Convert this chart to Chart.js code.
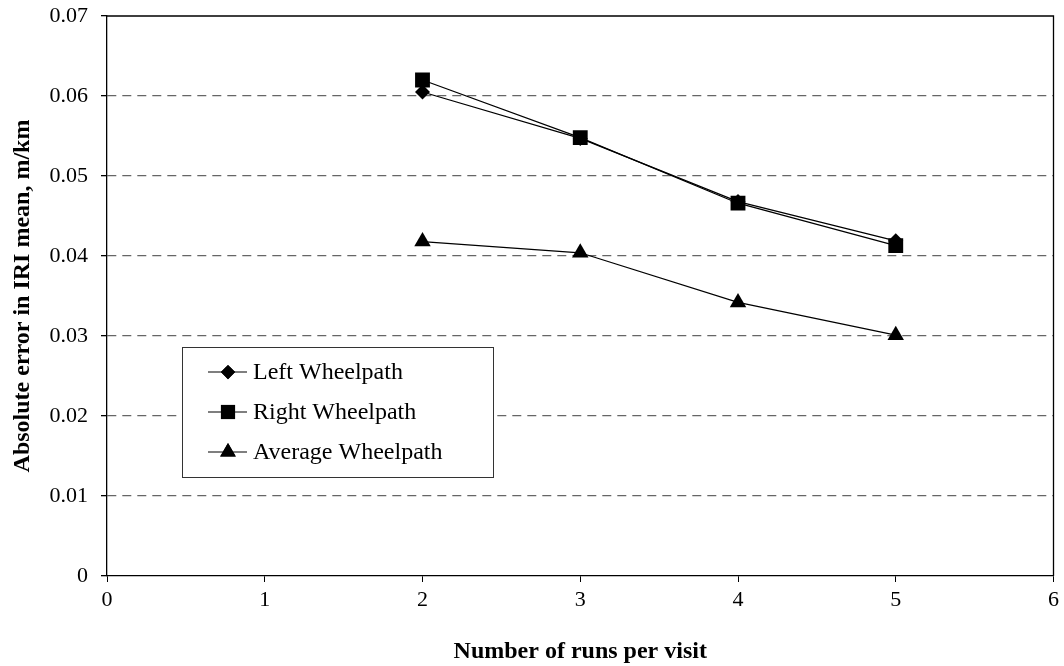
<!DOCTYPE html>
<html>
<head>
<meta charset="utf-8">
<script src="https://cdn.jsdelivr.net/npm/chart.js@4/dist/chart.umd.min.js"></script>
<style>
  html, body { margin: 0; padding: 0; background: #fff; }
  #wrap { width: 1064px; height: 666px; }
</style>
</head>
<body>
<div id="wrap"><canvas id="c" width="1064" height="666"></canvas></div>
<script>
// runs per visit
const runs = [2, 3, 4, 5];
// absolute error in IRI mean, m/km
const leftWheelpath = [0.0605, 0.0547, 0.0468, 0.0419];
const rightWheelpath = [0.0620, 0.0548, 0.0466, 0.0413];
const averageWheelpath = [0.0418, 0.0404, 0.0342, 0.0301];

const seriesNames = ["Left Wheelpath", "Right Wheelpath", "Average Wheelpath"];
const seriesValues = [leftWheelpath, rightWheelpath, averageWheelpath];
const markerStyles = ["rectRot", "rect", "triangle"];
const markerSizes = [7.5, 10.5, 9.5];

const FONT = "'Liberation Serif', 'Times New Roman', serif";

const datasets = seriesNames.map((name, i) => ({
  label: name,
  data: runs.map((r, j) => ({ x: r, y: seriesValues[i][j] })),
  showLine: true,
  borderColor: "#000",
  backgroundColor: "#000",
  borderWidth: 1.2,
  pointStyle: markerStyles[i],
  pointRadius: markerSizes[i],
  pointBackgroundColor: "#000",
  pointBorderColor: "#000",
  pointBorderWidth: 0,
  tension: 0
}));

// frame around plot area + legend box inside it
const framePlugin = {
  id: "frame",
  afterDatasetsDraw(chart) {
    const { ctx, chartArea: a } = chart;
    ctx.save();
    ctx.strokeStyle = "#000";
    ctx.lineWidth = 1.3;
    ctx.beginPath();
    ctx.moveTo(a.left, a.top);
    ctx.lineTo(a.right, a.top);
    ctx.lineTo(a.right, a.bottom);
    ctx.stroke();
    ctx.restore();
  },
  afterDraw(chart) {
    const { ctx } = chart;
    const bx = 182, by = 347, bw = 311, bh = 130;
    ctx.save();
    ctx.fillStyle = "#fff";
    ctx.fillRect(bx, by, bw, bh);
    ctx.strokeStyle = "#333";
    ctx.lineWidth = 1;
    ctx.strokeRect(bx + 0.5, by + 0.5, bw, bh);
    ctx.font = "24px " + FONT;
    ctx.textBaseline = "middle";
    ctx.fillStyle = "#000";
    chart.data.datasets.forEach((ds, i) => {
      const y = by + 25 + i * 40;
      ctx.strokeStyle = "#000";
      ctx.lineWidth = 1.2;
      ctx.beginPath();
      ctx.moveTo(bx + 26, y);
      ctx.lineTo(bx + 65, y);
      ctx.stroke();
      Chart.helpers.drawPoint(ctx, {
        pointStyle: ds.pointStyle,
        radius: ds.pointRadius * 0.95,
        borderWidth: 0
      }, bx + 46, y);
      ctx.fill();
      ctx.fillText(ds.label, bx + 71, y + 1);
    });
    ctx.restore();
  }
};

new Chart(document.getElementById("c"), {
  type: "scatter",
  data: { datasets },
  plugins: [framePlugin],
  options: {
    responsive: false,
    animation: false,
    layout: { padding: { left: 0, top: 16, right: 8, bottom: 0 } },
    plugins: {
      legend: { display: false },
      tooltip: { enabled: false }
    },
    scales: {
      x: {
        type: "linear",
        min: 0,
        max: 6,
        ticks: {
          stepSize: 1,
          color: "#000",
          padding: 5,
          font: { family: FONT, size: 22 }
        },
        grid: {
          drawOnChartArea: false,
          tickLength: 6,
          tickColor: "#000"
        },
        border: { color: "#000", width: 1.3 },
        title: {
          display: true,
          text: "Number of runs per visit",
          color: "#000",
          padding: { top: 10, bottom: 0 },
          font: { family: FONT, size: 24, weight: "bold" }
        },
        afterFit(scale) {
          scale.height = 90;
          scale.paddingLeft = 0;
          scale.paddingRight = 0;
        }
      },
      y: {
        type: "linear",
        min: 0,
        max: 0.07,
        ticks: {
          stepSize: 0.01,
          color: "#000",
          padding: 13,
          font: { family: FONT, size: 22 },
          callback: (v) => (Math.round(v * 100) / 100).toString()
        },
        grid: {
          tickLength: 6,
          tickColor: "#000",
          lineWidth: 1.3,
          color: (c) => {
            const v = c.tick ? Math.round(c.tick.value * 100) : -1;
            return v === 0 || v === 7 ? "rgba(0,0,0,0)" : "#666";
          }
        },
        border: { color: "#000", width: 1.3, dash: [9, 6] },
        title: {
          display: true,
          text: "Absolute error in IRI mean, m/km",
          color: "#000",
          padding: { top: 8, bottom: 0 },
          font: { family: FONT, size: 24, weight: "bold" }
        },
        afterFit(scale) {
          scale.width = 107;
          scale.paddingTop = 0;
          scale.paddingBottom = 0;
        }
      }
    }
  }
});
</script>
</body>
</html>
